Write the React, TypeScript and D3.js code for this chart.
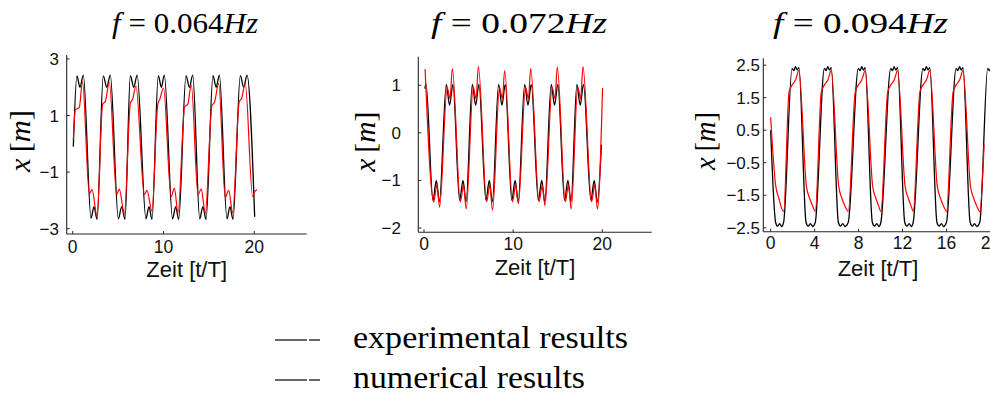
import * as d3 from "d3";
import { useEffect, useRef } from "react";

type Pt = [number, number];

// f = 0.064Hz  (t/T, x[m])
const exp064: Pt[] = [
    [0.07, -0.1], [0.47, 2.4], [0.8, 2.0], [1.17, 2.43], [2.02, -2.63], [2.35, -2.22], [2.68, -2.67],
    [3.37, 2.4], [3.75, 2.0], [4.14, 2.43], [5.03, -2.65], [5.4, -2.22], [5.76, -2.67],
    [6.35, 2.41], [6.72, 2.0], [7.1, 2.43], [8.07, -2.65], [8.4, -2.22], [8.73, -2.67],
    [9.43, 2.41], [9.76, 2.0], [10.09, 2.43], [11.0, -2.65], [11.34, -2.22], [11.67, -2.67],
    [12.48, 2.41], [12.85, 2.0], [13.22, 2.43], [13.99, -2.65], [14.34, -2.22], [14.68, -2.67],
    [15.45, 2.41], [15.8, 2.0], [16.15, 2.43], [16.99, -2.65], [17.32, -2.22], [17.65, -2.67],
    [18.46, 2.41], [18.83, 2.0], [19.2, 2.43], [20.04, -2.58],
];
const num064: Pt[] = [
    [0.07, 0.15], [0.29, 1.2], [0.5, 1.24], [0.72, 1.28], [1.08, 2.2],
    [1.83, -1.77], [2.13, -1.62], [2.68, -2.55], [3.3, 1.4], [3.6, 1.5], [4.03, 2.18],
    [4.85, -1.8], [5.13, -1.6], [5.69, -2.48], [6.35, 1.43], [6.6, 1.58], [6.97, 2.04],
    [7.89, -1.8], [8.18, -1.65], [8.73, -2.38], [9.36, 1.37], [9.6, 1.58], [10.0, 1.97],
    [10.84, -1.87], [11.2, -1.57], [11.6, -2.46], [12.33, 1.31], [12.67, 1.4], [13.06, 2.08],
    [13.8, -1.8], [14.16, -1.6], [14.6, -2.46], [15.34, 1.37], [15.6, 1.45], [16.08, 2.14],
    [16.8, -1.9], [17.18, -1.65], [17.62, -2.44], [18.35, 1.5], [18.6, 1.6], [19.0, 2.14],
    [19.82, -1.87], [20.06, -1.68], [20.3, -1.63],
];
const xTicks064 = [0, 10, 20];
const yTicks064 = [-3, -1, 1, 3];

// f = 0.072Hz
const exp072: Pt[] = [
    [0.1, 0.93], [0.22, 1.03], [1.01, -1.42], [1.38, -1.0], [1.73, -1.45],
    [2.5, 1.02], [2.87, 0.58], [3.24, 1.02], [4.0, -1.42], [4.37, -1.0], [4.72, -1.45],
    [5.42, 1.02], [5.79, 0.58], [6.16, 1.02], [6.95, -1.42], [7.32, -1.0], [7.67, -1.45],
    [8.37, 1.02], [8.74, 0.58], [9.11, 1.02], [9.85, -1.42], [10.22, -1.0], [10.57, -1.45],
    [11.29, 1.02], [11.66, 0.58], [12.03, 1.02], [12.83, -1.42], [13.2, -1.0], [13.55, -1.45],
    [14.27, 1.02], [14.64, 0.58], [15.01, 1.02], [15.77, -1.42], [16.14, -1.0], [16.49, -1.45],
    [17.15, 1.02], [17.52, 0.58], [17.89, 1.02], [18.72, -1.42], [19.09, -1.0], [19.44, -1.45],
    [19.9, -0.25],
];
const num072: Pt[] = [
    [0.12, 1.34], [1.09, -1.45], [1.44, -1.1], [1.75, -1.56],
    [2.6, 0.95], [2.92, 0.72], [3.18, 1.35], [4.08, -1.45], [4.43, -1.1], [4.74, -1.6],
    [5.52, 0.96], [5.84, 0.72], [6.1, 1.39], [7.03, -1.45], [7.38, -1.1], [7.69, -1.63],
    [8.47, 0.95], [8.79, 0.72], [9.05, 1.31], [9.93, -1.45], [10.28, -1.1], [10.59, -1.49],
    [11.39, 0.96], [11.71, 0.72], [11.97, 1.35], [12.91, -1.45], [13.26, -1.1], [13.57, -1.53],
    [14.37, 0.96], [14.69, 0.72], [14.95, 1.38], [15.85, -1.45], [16.2, -1.1], [16.51, -1.6],
    [17.25, 0.96], [17.57, 0.72], [17.83, 1.39], [18.8, -1.45], [19.15, -1.1], [19.46, -1.6],
    [20.03, 0.94],
];
const xTicks072 = [0, 10, 20];
const yTicks072 = [-2, -1, 0, 1];

// f = 0.094Hz
const exp094: Pt[] = [
    [0.0, 0.5], [0.45, -2.33], [0.62, -2.45], [0.82, -2.37], [1.0, -2.46], [1.18, -2.33],
    [1.95, 2.4], [2.1, 2.33], [2.26, 2.45], [2.41, 2.35], [2.57, 2.42],
    [3.22, -2.33], [3.42, -2.45], [3.62, -2.37], [3.82, -2.46], [4.06, -2.33],
    [4.89, 2.4], [5.04, 2.33], [5.2, 2.45], [5.35, 2.35], [5.51, 2.42],
    [6.16, -2.33], [6.36, -2.45], [6.56, -2.37], [6.76, -2.46], [7.06, -2.33],
    [7.98, 2.4], [8.13, 2.33], [8.29, 2.45], [8.44, 2.35], [8.6, 2.42],
    [9.25, -2.33], [9.45, -2.45], [9.65, -2.37], [9.85, -2.46], [10.03, -2.33],
    [10.93, 2.4], [11.08, 2.33], [11.24, 2.45], [11.39, 2.35], [11.55, 2.42],
    [12.2, -2.33], [12.4, -2.45], [12.6, -2.37], [12.8, -2.46], [12.97, -2.33],
    [13.86, 2.4], [14.01, 2.33], [14.17, 2.45], [14.32, 2.35], [14.48, 2.42],
    [15.13, -2.33], [15.33, -2.45], [15.53, -2.37], [15.73, -2.46], [16.0, -2.33],
    [16.88, 2.4], [17.03, 2.33], [17.19, 2.45], [17.34, 2.35], [17.5, 2.42],
    [18.15, -2.33], [18.35, -2.45], [18.55, -2.37], [18.75, -2.46], [19.03, -2.33],
    [19.75, 2.4], [19.9, 2.33], [20.05, 2.45],
];
const num094: Pt[] = [
    [0.0, 0.9], [0.45, -1.19], [0.75, -1.6], [1.0, -1.9], [1.18, -2.0],
    [1.67, 1.68], [1.97, 1.9], [2.27, 2.05], [2.57, 2.33], [3.25, -1.22], [3.55, -1.6], [3.85, -1.85], [4.06, -2.0],
    [4.61, 1.68], [4.91, 1.9], [5.21, 2.05], [5.51, 2.33], [6.19, -1.22], [6.49, -1.6], [6.79, -1.85], [7.06, -2.0],
    [7.7, 1.68], [8.0, 1.9], [8.3, 2.05], [8.6, 2.33], [9.28, -1.22], [9.58, -1.6], [9.85, -1.85], [10.03, -2.0],
    [10.65, 1.68], [10.95, 1.9], [11.25, 2.05], [11.55, 2.33], [12.23, -1.22], [12.53, -1.6], [12.8, -1.85], [12.97, -2.0],
    [13.58, 1.68], [13.88, 1.9], [14.18, 2.05], [14.48, 2.33], [15.16, -1.22], [15.46, -1.6], [15.76, -1.85], [16.0, -2.0],
    [16.6, 1.68], [16.9, 1.9], [17.2, 2.05], [17.5, 2.33], [18.18, -1.22], [18.48, -1.6], [18.78, -1.85], [19.03, -2.0],
    [19.42, 0.06],
];
const xTicks094 = [0, 4, 8, 12, 16, 20];
const yTicks094 = [-2.5, -1.5, -0.5, 0.5, 1.5, 2.5];

const freqs = ["0.064", "0.072", "0.094"];
const legendLabels = ["experimental results", "numerical results"];

const SERIF = "'Liberation Serif', 'Times New Roman', serif";
const SANS = "'Liberation Sans', Arial, Helvetica, sans-serif";

// layout per panel
const panels = [
    {
        f: freqs[0], exp: exp064, num: num064, xTicks: xTicks064, yTicks: yTicks064,
        xDom: [-0.66, 25.77], xRange: [66.7, 306.7], yDom: [-3.19, 3.14], yRange: [234, 55],
        titleX: 185, titleW: 146, ylabX: 30, ylabY: 141, ylabW: 62, tickRight: 59, xTickBase: 252.5,
        xlabX: 186.7, xlabBase: 276.5,
    },
    {
        f: freqs[1], exp: exp072, num: num072, xTicks: xTicks072, yTicks: yTicks072,
        xDom: [-0.64, 25.54], xRange: [418.3, 651.7], yDom: [-2.09, 1.6], yRange: [232.3, 56.7],
        titleX: 519, titleW: 176, ylabX: 375, ylabY: 141.7, ylabW: 60, tickRight: 401, xTickBase: 249.5,
        xlabX: 535, xlabBase: 274.5,
    },
    {
        f: freqs[2], exp: exp094, num: num094, xTicks: xTicks094, yTicks: yTicks094,
        xDom: [-0.67, 25.6], xRange: [763.3, 1052], yDom: [-2.62, 2.71], yRange: [231.7, 58.3],
        titleX: 860.5, titleW: 175, ylabX: 715, ylabY: 141, ylabW: 58, tickRight: 760, xTickBase: 248.5,
        xlabX: 878, xlabBase: 275.5,
    },
];

const fmt = (v: number) => (v < 0 ? "\u2212" + Math.abs(v) : String(v));

const App = () => {
    const svgRef = useRef<SVGSVGElement>(null);

    useEffect(() => {
        const svg = d3.select(svgRef.current);
        svg.selectAll("*").remove();
        svg.append("rect").attr("width", 990).attr("height", 397).attr("fill", "#fff");

        panels.forEach(p => {
            const x = d3.scaleLinear().domain(p.xDom).range(p.xRange);
            const y = d3.scaleLinear().domain(p.yDom).range(p.yRange);
            const g = svg.append("g");
            const axisColor = "#262626";

            // axes lines
            g.append("line")
                .attr("x1", p.xRange[0]).attr("x2", p.xRange[1])
                .attr("y1", p.yRange[0]).attr("y2", p.yRange[0])
                .attr("stroke", axisColor).attr("stroke-width", 1.1);
            g.append("line")
                .attr("x1", p.xRange[0]).attr("x2", p.xRange[0])
                .attr("y1", p.yRange[0]).attr("y2", p.yRange[1])
                .attr("stroke", axisColor).attr("stroke-width", 1.1);

            // y ticks (inward)
            p.yTicks.forEach(v => {
                g.append("line")
                    .attr("x1", p.xRange[0]).attr("x2", p.xRange[0] + 3)
                    .attr("y1", y(v)).attr("y2", y(v))
                    .attr("stroke", axisColor);
                g.append("text")
                    .attr("x", p.tickRight).attr("y", y(v) + 6)
                    .attr("text-anchor", "end")
                    .attr("font-family", SANS).attr("font-size", 17)
                    .attr("fill", "#111")
                    .text(fmt(v));
            });
            // x ticks (inward)
            p.xTicks.forEach(v => {
                g.append("line")
                    .attr("x1", x(v)).attr("x2", x(v))
                    .attr("y1", p.yRange[0]).attr("y2", p.yRange[0] - 3)
                    .attr("stroke", axisColor);
                g.append("text")
                    .attr("x", x(v)).attr("y", p.xTickBase)
                    .attr("text-anchor", "middle")
                    .attr("font-family", SANS).attr("font-size", 17.5)
                    .attr("fill", "#111")
                    .text(fmt(v));
            });

            const line = d3.line<Pt>()
                .x(d => x(d[0]))
                .y(d => y(d[1]))
                .curve(d3.curveMonotoneX);

            g.append("path").datum(p.exp)
                .attr("fill", "none").attr("stroke", "#000").attr("stroke-width", 1.3)
                .attr("d", line);
            g.append("path").datum(p.num)
                .attr("fill", "none").attr("stroke", "#ff0000").attr("stroke-width", 1.2)
                .attr("d", line);

            // title
            const t = g.append("text")
                .attr("x", p.titleX).attr("y", 33)
                .attr("text-anchor", "middle")
                .attr("font-family", SERIF).attr("font-size", 30)
                .attr("textLength", p.titleW).attr("lengthAdjust", "spacingAndGlyphs");
            t.append("tspan").attr("font-style", "italic").text("f");
            t.append("tspan").text("\u00a0=\u00a0" + p.f);
            t.append("tspan").attr("font-style", "italic").text("Hz");

            // y label
            const yl = g.append("text")
                .attr("transform", `translate(${p.ylabX},${p.ylabY}) rotate(-90)`)
                .attr("text-anchor", "middle")
                .attr("font-family", SERIF).attr("font-size", 30)
                .attr("textLength", p.ylabW).attr("lengthAdjust", "spacingAndGlyphs");
            yl.append("tspan").attr("font-style", "italic").text("x");
            yl.append("tspan").text("\u2009[");
            yl.append("tspan").attr("font-style", "italic").text("m");
            yl.append("tspan").text("]");

            // x label
            g.append("text")
                .attr("x", p.xlabX).attr("y", p.xlabBase)
                .attr("text-anchor", "middle")
                .attr("font-family", SANS).attr("font-size", 22)
                .attr("fill", "#111")
                .text("Zeit [t/T]");
        });

        // legend
        const leg = svg.append("g");
        legendLabels.forEach((name, i) => {
            const ly = 340 + i * 40;
            leg.append("line").attr("x1", 275).attr("x2", 307).attr("y1", ly).attr("y2", ly)
                .attr("stroke", "#000").attr("stroke-width", 1.2);
            leg.append("line").attr("x1", 309).attr("x2", 320).attr("y1", ly).attr("y2", ly)
                .attr("stroke", "#000").attr("stroke-width", 1.2);
            leg.append("text")
                .attr("x", 353).attr("y", ly + 8)
                .attr("font-family", SERIF).attr("font-size", 31)
                .attr("textLength", i === 0 ? 275 : 232).attr("lengthAdjust", "spacingAndGlyphs")
                .text(name);
        });
    }, []);

    return (
        <svg ref={svgRef} width={990} height={397}
            style={{ position: "absolute", left: 0, top: 0, display: "block" }} />
    );
};

export default App;
